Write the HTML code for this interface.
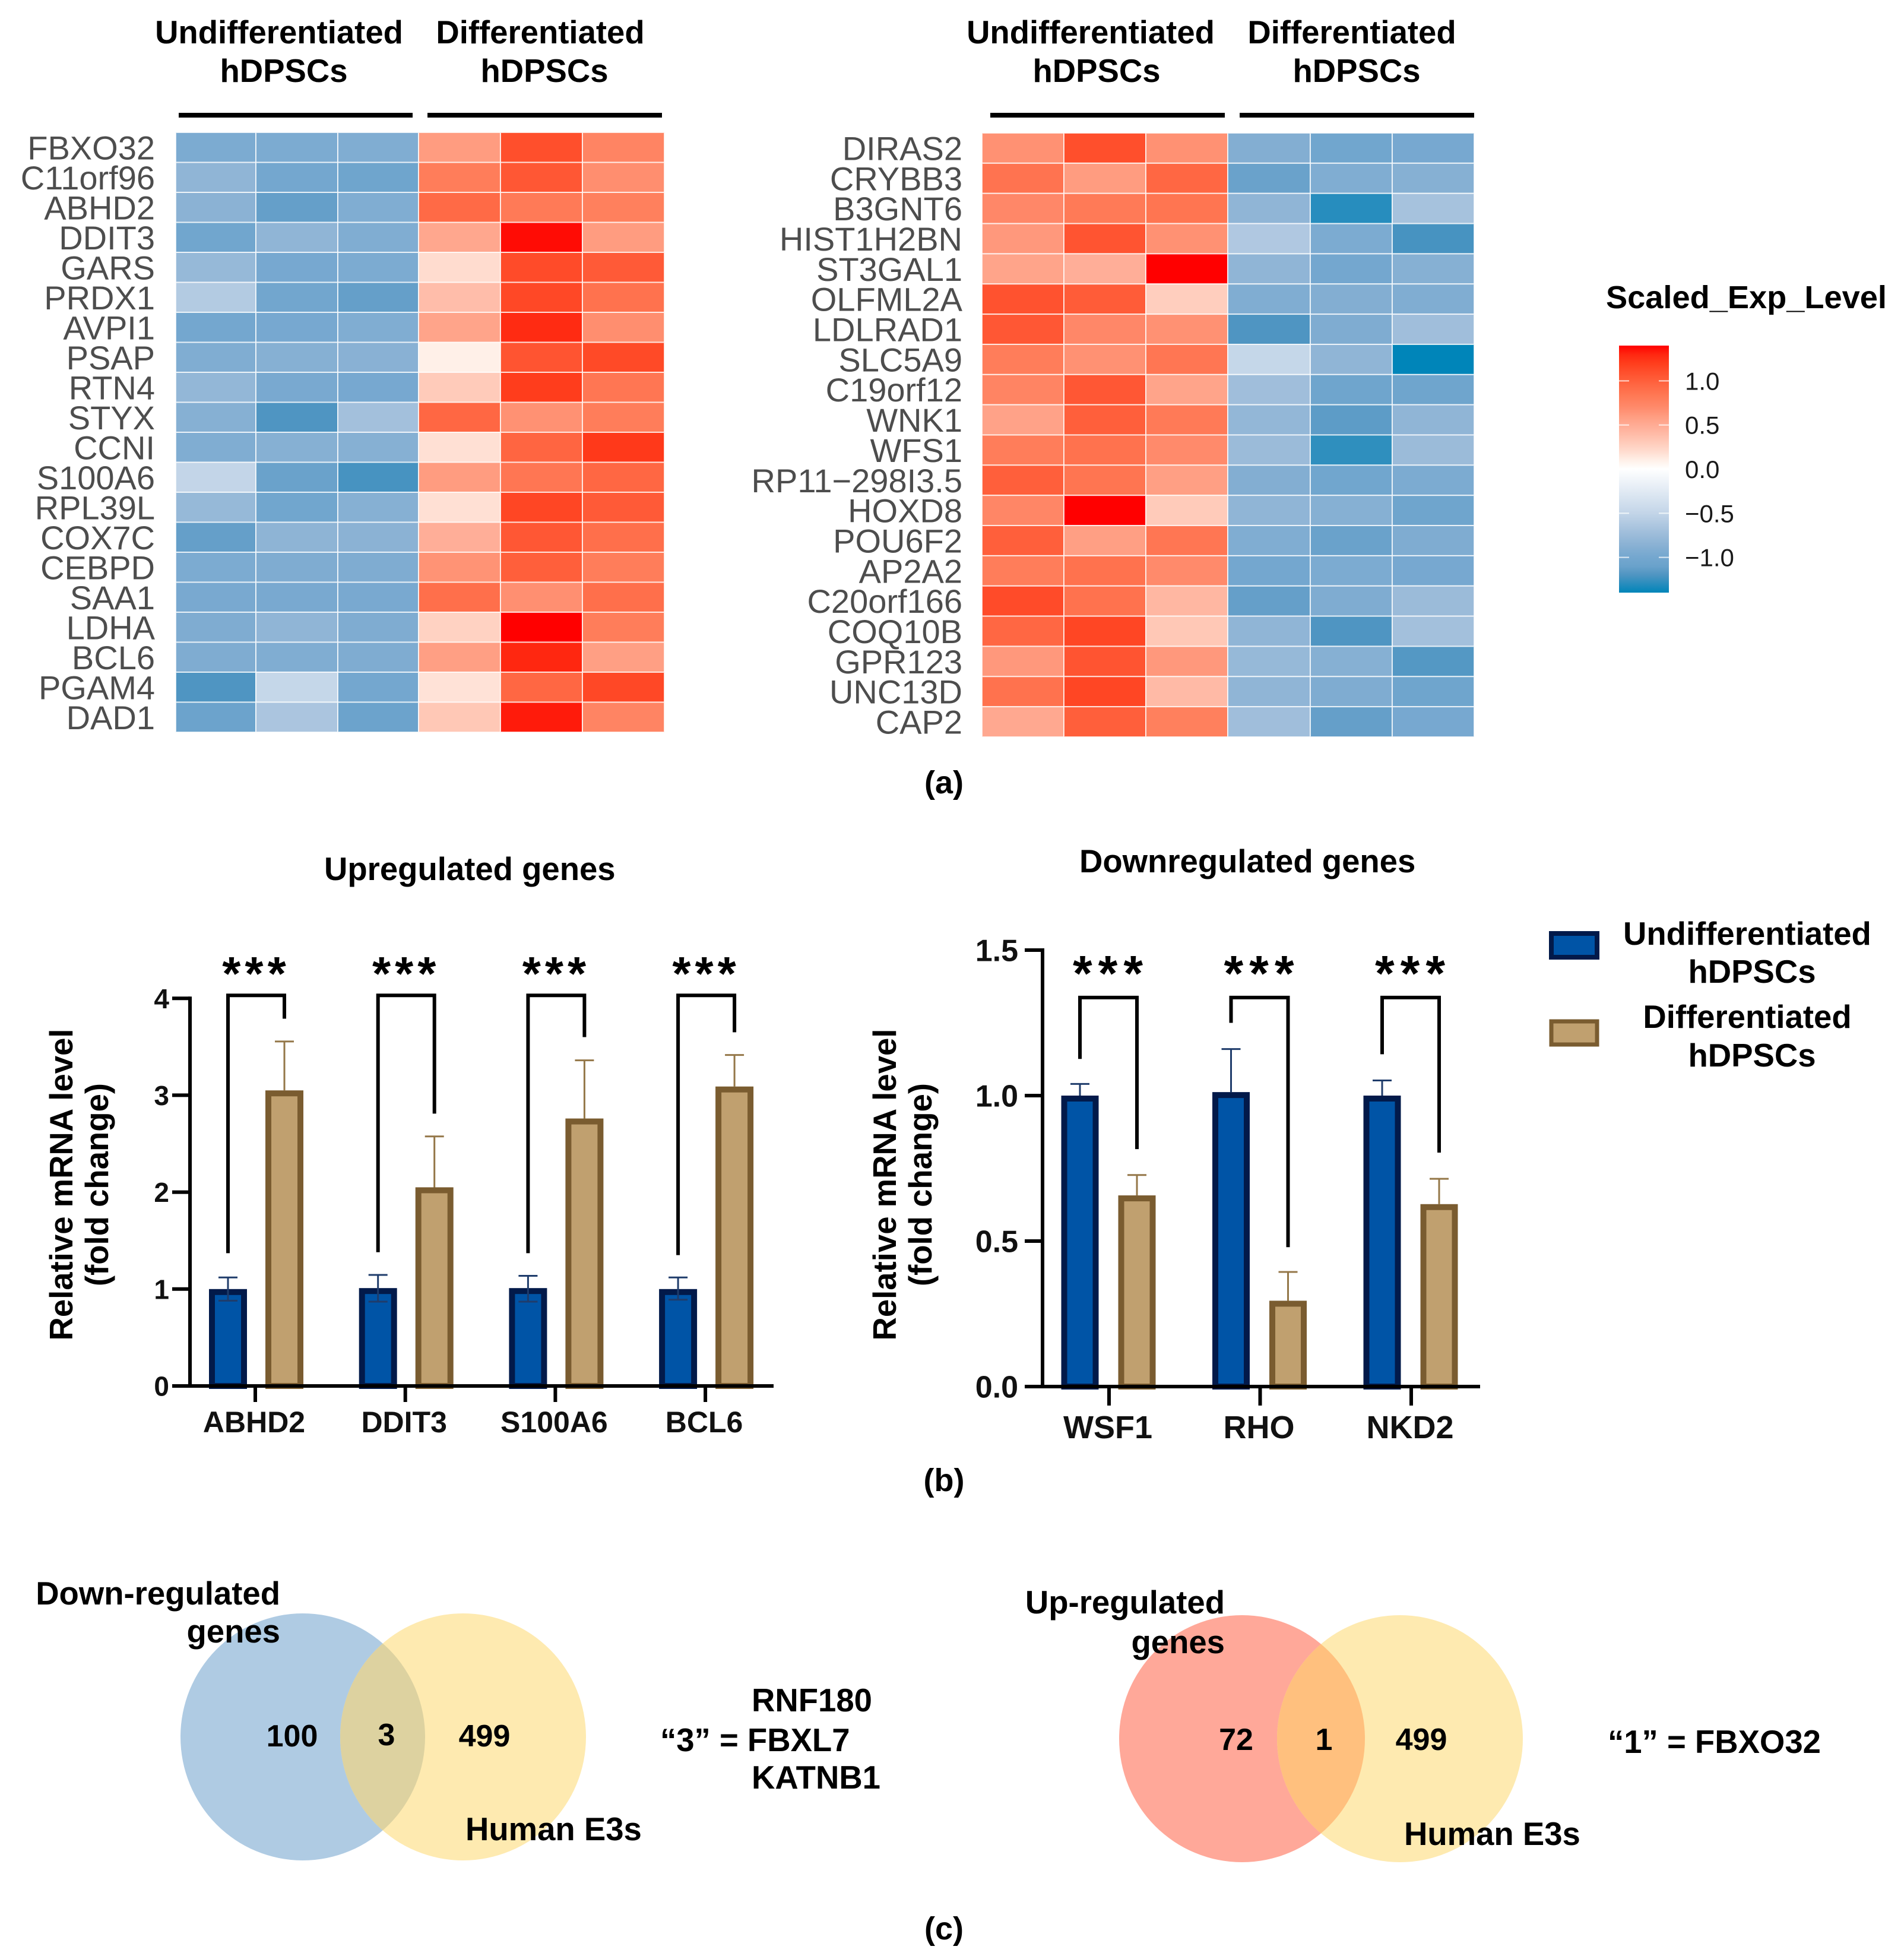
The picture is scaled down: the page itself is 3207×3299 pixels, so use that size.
<!DOCTYPE html>
<html lang="en">
<head>
<meta charset="utf-8">
<title>Heatmaps, qPCR bars and Venn diagrams</title>
<style>
html,body{margin:0;padding:0;background:#fff;}
svg{display:block;font-family:"Liberation Sans",Arial,sans-serif;}
.b{font-weight:700;fill:#000;font-size:54.5px;}
.gene{font-size:56px;fill:#4d4d4d;text-anchor:end;}
.m{text-anchor:middle;}
</style>
</head>
<body>
<svg id="fig" xmlns="http://www.w3.org/2000/svg" width="3207" height="3299" viewBox="0 0 3207 3299">
<defs>
<linearGradient id="legendGrad" x1="0" y1="0" x2="0" y2="1"></linearGradient>
<clipPath id="clipBlue"><ellipse cx="510" cy="2925" rx="206" ry="208"/></clipPath>
<clipPath id="clipRed"><ellipse cx="2092" cy="2928" rx="207" ry="208"/></clipPath>
</defs>
<rect width="3207" height="3299" fill="#fff"/>

<g id="heatLeft"></g>
<g id="heatRight"></g>

<text class="b m" x="470" y="73">Undifferentiated</text>
<text class="b m" x="478" y="138">hDPSCs</text>
<text class="b m" x="910" y="73">Differentiated</text>
<text class="b m" x="917" y="138">hDPSCs</text>
<rect x="301" y="190" width="394" height="8" fill="#000"/>
<rect x="720" y="190" width="395" height="8" fill="#000"/>

<text class="b m" x="1837" y="73">Undifferentiated</text>
<text class="b m" x="1847" y="138">hDPSCs</text>
<text class="b m" x="2277" y="73">Differentiated</text>
<text class="b m" x="2285" y="138">hDPSCs</text>
<rect x="1668" y="190" width="395" height="8" fill="#000"/>
<rect x="2088" y="190" width="395" height="8" fill="#000"/>

<text class="b" style="font-size:54.2px" x="2705" y="519">Scaled_Exp_Level</text>
<rect x="2727" y="582" width="84" height="416" fill="url(#legendGrad)"/>
<g id="legendTicks"></g>

<text class="b m" style="font-size:54px" x="1590" y="1336">(a)</text>

<text class="b" x="546" y="1482">Upregulated genes</text>
<g id="chartUp"></g>
<text class="b m" transform="rotate(-90 122 1995)" x="122" y="1995">Relative mRNA level</text>
<text class="b m" transform="rotate(-90 182 1995)" x="182" y="1995">(fold change)</text>

<text class="b" x="1818" y="1469">Downregulated genes</text>
<g id="chartDown"></g>
<text class="b m" transform="rotate(-90 1509 1995)" x="1509" y="1995">Relative mRNA level</text>
<text class="b m" transform="rotate(-90 1569 1995)" x="1569" y="1995">(fold change)</text>

<rect x="2613" y="1572" width="77" height="40" fill="#0054a6" stroke="#021a4a" stroke-width="8"/>
<rect x="2613" y="1720" width="77" height="39" fill="#c0a06f" stroke="#7a5c30" stroke-width="7"/>
<text class="b" x="2734" y="1591">Undifferentiated</text>
<text class="b m" x="2951" y="1655">hDPSCs</text>
<text class="b m" x="2943" y="1731">Differentiated</text>
<text class="b m" x="2951" y="1796">hDPSCs</text>

<text class="b m" style="font-size:54px" x="1590" y="2511">(b)</text>

<g>
<ellipse cx="510" cy="2925" rx="206" ry="208" fill="#afcbe3"/>
<ellipse cx="780" cy="2925" rx="207" ry="208" fill="#feeab0"/>
<ellipse cx="780" cy="2925" rx="207" ry="208" fill="#ddd2a0" clip-path="url(#clipBlue)"/>
<text class="b" style="text-anchor:end" x="472" y="2702">Down-regulated</text>
<text class="b" style="text-anchor:end" x="472" y="2766">genes</text>
<text class="b m" style="font-size:52px" x="492" y="2941">100</text>
<text class="b m" style="font-size:52px" x="651" y="2939">3</text>
<text class="b m" style="font-size:52px" x="816" y="2941">499</text>
<text class="b" x="784" y="3099">Human E3s</text>
<text class="b" x="1266" y="2882">RNF180</text>
<text class="b" x="1112" y="2949">“3” = FBXL7</text>
<text class="b" x="1266" y="3012">KATNB1</text>
</g>

<g>
<ellipse cx="2092" cy="2928" rx="207" ry="208" fill="#ffa899"/>
<ellipse cx="2358" cy="2928" rx="207" ry="208" fill="#feeab0"/>
<ellipse cx="2358" cy="2928" rx="207" ry="208" fill="#ffc07e" clip-path="url(#clipRed)"/>
<text class="b" style="text-anchor:end" x="2063" y="2717">Up-regulated</text>
<text class="b" style="text-anchor:end" x="2063" y="2784">genes</text>
<text class="b m" style="font-size:52px" x="2082" y="2947">72</text>
<text class="b m" style="font-size:52px" x="2230" y="2947">1</text>
<text class="b m" style="font-size:52px" x="2394" y="2947">499</text>
<text class="b" x="2365" y="3107">Human E3s</text>
<text class="b" x="2708" y="2952">“1” = FBXO32</text>
</g>

<text class="b m" style="font-size:54px" x="1590" y="3266">(c)</text>
</svg>

<script>
// ---- colour scale ----
const colorStopValues = [-1.4,-1.2,-1.1,-1.0,-0.85,-0.7,-0.5,0,0.1,0.2,0.3,0.4,0.5,0.6,0.7,0.8,0.9,1.0,1.1,1.2,1.3,1.4];
const colorStopColors = ['#0085b9','#4f95c2','#6aa2cb','#74a7cf','#8bb2d4','#a3c0dc','#c3d5e8','#ffffff','#fff0e8','#ffdccf','#ffcbba','#ffbaa6','#ffab94','#ff9c80','#ff8a6b','#ff7d5a','#ff6f4b','#ff5f3b','#ff4f2c','#ff3d1c','#ff2710','#ff0000'];
const legendTickValues = [1.0,0.5,0.0,-0.5,-1.0];
const legendTickLabels = ['1.0','0.5','0.0','−0.5','−1.0'];

// ---- left heatmap ----
const leftGenes = ['FBXO32','C11orf96','ABHD2','DDIT3','GARS','PRDX1','AVPI1','PSAP','RTN4','STYX','CCNI','S100A6','RPL39L','COX7C','CEBPD','SAA1','LDHA','BCL6','PGAM4','DAD1'];
const leftValues = [
[-0.95,-0.95,-0.92,0.6,1.1,0.75],
[-0.82,-1.0,-1.05,0.8,1.05,0.68],
[-0.85,-1.12,-0.92,0.93,0.82,0.78],
[-1.03,-0.82,-0.92,0.53,1.37,0.6],
[-0.78,-0.98,-0.95,0.2,1.12,1.03],
[-0.6,-1.02,-1.12,0.38,1.14,0.88],
[-1.0,-0.98,-0.92,0.55,1.28,0.68],
[-0.92,-0.88,-0.86,0.1,1.07,1.13],
[-0.8,-0.97,-0.98,0.3,1.2,0.85],
[-0.88,-1.2,-0.7,0.95,0.66,0.8],
[-0.92,-0.88,-0.88,0.18,0.96,1.22],
[-0.5,-1.1,-1.22,0.6,0.85,0.95],
[-0.78,-1.03,-0.88,0.18,1.15,1.03],
[-1.12,-0.83,-0.85,0.48,1.05,0.9],
[-0.95,-0.93,-0.93,0.65,1.0,0.8],
[-0.97,-0.97,-0.97,0.9,0.67,0.9],
[-0.93,-0.82,-0.93,0.26,1.4,0.8],
[-0.93,-0.92,-0.93,0.58,1.3,0.58],
[-1.2,-0.48,-1.0,0.17,0.95,1.14],
[-1.08,-0.65,-1.08,0.32,1.33,0.75]
];

// ---- right heatmap ----
const rightGenes = ['DIRAS2','CRYBB3','B3GNT6','HIST1H2BN','ST3GAL1','OLFML2A','LDLRAD1','SLC5A9','C19orf12','WNK1','WFS1','RP11−298I3.5','HOXD8','POU6F2','AP2A2','C20orf166','COQ10B','GPR123','UNC13D','CAP2'];
const rightValues = [
[0.66,1.1,0.66,-0.9,-1.03,-0.98],
[0.87,0.6,0.95,-1.1,-0.92,-0.88],
[0.72,0.82,0.86,-0.82,-1.3,-0.68],
[0.62,1.07,0.66,-0.62,-0.95,-1.22],
[0.55,0.48,1.4,-0.82,-1.0,-0.88],
[1.08,1.02,0.28,-0.92,-0.9,-0.92],
[1.05,0.72,0.66,-1.2,-0.93,-0.72],
[0.8,0.66,0.85,-0.48,-0.82,-1.4],
[0.75,1.05,0.55,-0.72,-1.05,-1.05],
[0.56,1.0,0.82,-0.8,-1.15,-0.82],
[0.8,0.88,0.7,-0.75,-1.28,-0.75],
[1.0,0.86,0.58,-0.9,-1.03,-0.95],
[0.73,1.4,0.3,-0.82,-0.88,-1.05],
[1.0,0.58,0.85,-0.92,-1.1,-0.93],
[0.8,0.88,0.7,-1.0,-0.95,-0.98],
[1.12,0.88,0.42,-1.12,-0.93,-0.75],
[0.95,1.15,0.32,-0.82,-1.2,-0.7],
[0.62,1.07,0.62,-0.78,-0.88,-1.18],
[0.88,1.15,0.4,-0.82,-0.93,-1.05],
[0.52,1.0,0.78,-0.72,-1.12,-0.98]
];

// ---- upregulated bar chart ----
const upGenes = ['ABHD2','DDIT3','S100A6','BCL6'];
const upUndiff = [1.0,1.01,1.01,1.0];
const upUndiffErrHigh = [1.12,1.146,1.137,1.12];
const upUndiffErrLow = [0.88,0.87,0.87,0.89];
const upDiff = [3.05,2.05,2.76,3.09];
const upDiffErrHigh = [3.555,2.575,3.36,3.415];
const upBracketLeft = [1.37,1.38,1.37,1.35];
const upBracketRight = [3.79,2.81,3.6,3.65];
const upBracketTop = [4.03,4.03,4.03,4.03];
const upTicks = [0,1,2,3,4];
const upTickLabels = ['0','1','2','3','4'];

// ---- downregulated bar chart ----
const downGenes = ['WSF1','RHO','NKD2'];
const downUndiff = [1.0,1.012,1.0];
const downUndiffErrHigh = [1.04,1.16,1.052];
const downDiff = [0.657,0.295,0.627];
const downDiffErrHigh = [0.727,0.394,0.714];
const downBracketLeft = [1.126,1.25,1.142];
const downBracketRight = [0.816,0.479,0.804];
const downBracketTop = [1.337,1.337,1.337];
const downTicks = [0,0.5,1.0,1.5];
const downTickLabels = ['0.0','0.5','1.0','1.5'];

const NS = 'http://www.w3.org/2000/svg';
function make(tag, parent, attrs, text) {
  const n = document.createElementNS(NS, tag);
  for (const k in attrs) n.setAttribute(k, attrs[k]);
  if (text !== undefined) n.textContent = text;
  parent.appendChild(n);
  return n;
}
function hexRgb(h) { return [1,3,5].map(i => parseInt(h.slice(i,i+2),16)); }
function colorFor(v) {
  const vs = colorStopValues;
  if (v <= vs[0]) return colorStopColors[0];
  for (let i = 1; i < vs.length; i++) {
    if (v <= vs[i]) {
      const t = (v - vs[i-1]) / (vs[i] - vs[i-1]);
      const a = hexRgb(colorStopColors[i-1]), b = hexRgb(colorStopColors[i]);
      return 'rgb(' + a.map((c,j) => Math.round(c + (b[j]-c)*t)).join(',') + ')';
    }
  }
  return colorStopColors[vs.length-1];
}

// colour bar gradient + ticks: the top of the bar is the highest value, so stops run high to low
const grad = document.getElementById('legendGrad');
for (let i = colorStopValues.length - 1; i >= 0; i--) {
  make('stop', grad, {offset: (1.4 - colorStopValues[i])/2.8, 'stop-color': colorStopColors[i]});
}
const legendY = v => 790 - v*148.6;
const legendTicksG = document.getElementById('legendTicks');
legendTickValues.forEach((v,i) => {
  const t1 = make('rect', legendTicksG, {x:2727, y:legendY(v)-1, width:17, height:2, fill:'#fff', opacity:0.75});
  
  
  const t2 = make('rect', legendTicksG, {x:2794, y:legendY(v)-1, width:17, height:2, fill:'#fff', opacity:0.75});
  
  
  const l = make('text', legendTicksG, {x:2838, y:legendY(v)+15, 'font-size':42, fill:'#1a1a1a'}, legendTickLabels[i]);
  
  
});

// heatmaps
function drawHeat(group, genes, values, colEdges, top, rowH, labelX) {
  const yOf = r => top + r*rowH;
  values.forEach((row, r) => {
    row.forEach((v, c) => {
      const cell = make('rect', group, {x:colEdges[c], y:yOf(r), width:colEdges[c+1]-colEdges[c], height:rowH, fill:colorFor(v), stroke:'#fff', 'stroke-opacity':0.75, 'stroke-width':2});
      
      
    });
    const lab = make('text', group, {class:'gene', x:labelX, y:yOf(r)+rowH/2+20}, genes[r]);
    
    
  });
}
drawHeat(document.getElementById('heatLeft'), leftGenes, leftValues, [296,431,569,705,843,981,1119], 223, 50.5, 261);
drawHeat(document.getElementById('heatRight'), rightGenes, rightValues, [1654,1792,1930,2068,2207,2345,2483], 224, 50.85, 1621);

// bar charts
function drawBars(g, cfg) {
  const y = v => cfg.y0 - v*cfg.unit;
  const xc = i => cfg.x0 + cfg.step*i;
  const sw = 10;
  const barRect = (cx, v, fill, stroke) => make('rect', g, {
    x: cx - cfg.barW/2 + sw/2, y: y(v) + sw/2,
    width: cfg.barW - sw, height: cfg.y0 - y(v) - sw/2,
    fill: fill, stroke: stroke, 'stroke-width': sw
  });
  const errLine = (cx, a, b, col) => make('line', g, {x1:cx, x2:cx, y1:y(a), y2:y(b), stroke:col, 'stroke-width':3});
  const errCap = (cx, a, col) => make('line', g, {x1:cx-16, x2:cx+16, y1:y(a), y2:y(a), stroke:col, 'stroke-width':3});

  cfg.genes.forEach((gene, i) => {
    const bx = xc(i) + cfg.offA, dx = xc(i) + cfg.offB;

    const b1 = barRect(bx, cfg.undiff[i], '#0054a6', '#021a4a');
    
    
    const e1 = errLine(bx, cfg.undiff[i], cfg.undiffHigh[i], '#1f3c6b');
    
    
    const c1 = errCap(bx, cfg.undiffHigh[i], '#1f3c6b');
    
    
    if (cfg.undiffLow) {
      const e1b = errLine(bx, cfg.undiff[i], cfg.undiffLow[i], '#1f3c6b');
      
      
      const c1b = errCap(bx, cfg.undiffLow[i], '#1f3c6b');
      
      
    }

    const b2 = barRect(dx, cfg.diff[i], '#c0a06f', '#7a5c30');
    
    
    const e2 = errLine(dx, cfg.diff[i], cfg.diffHigh[i], '#947748');
    
    
    const c2 = errCap(dx, cfg.diffHigh[i], '#947748');
    
    

    const br = make('path', g, {
      d: 'M' + bx + ' ' + y(cfg.brLeft[i]) + 'V' + y(cfg.brTop[i]) + 'H' + dx + 'V' + y(cfg.brRight[i]),
      fill: 'none', stroke: '#000', 'stroke-width': 6
    });
    
    

    const st = make('text', g, {
      x: xc(i) - 2 + cfg.starLs/2, y: cfg.starY, 'text-anchor': 'middle',
      'font-size': cfg.starSize, 'font-weight': 700, 'letter-spacing': cfg.starLs, fill: '#000'
    }, '***');
    
    

    const tk = make('line', g, {x1:xc(i), x2:xc(i), y1:cfg.y0, y2:cfg.y0+cfg.tickLen, stroke:'#000', 'stroke-width':6});
    
    

    const gl = make('text', g, {x:xc(i)+cfg.catOff, y:cfg.catY, 'text-anchor':'middle', 'font-size':cfg.catSize, 'font-weight':700, fill:'#111'}, gene);
    
    
  });

  const yAxis = make('line', g, {x1:cfg.axisX, x2:cfg.axisX, y1:y(cfg.ticks[cfg.ticks.length-1])-3, y2:cfg.y0+3, stroke:'#000', 'stroke-width':6});
  
  
  const xAxis = make('line', g, {x1:cfg.axisX-30, x2:cfg.axisEnd, y1:cfg.y0, y2:cfg.y0, stroke:'#000', 'stroke-width':6});
  
  

  cfg.ticks.forEach((t, i) => {
    const tk = make('line', g, {x1:cfg.axisX-30, x2:cfg.axisX, y1:y(t), y2:y(t), stroke:'#000', 'stroke-width':6});
    
    
    const lb = make('text', g, {x:cfg.axisX-cfg.labelGap, y:y(t)+cfg.ySize*0.36, 'text-anchor':'end', 'font-size':cfg.ySize, 'font-weight':700, fill:'#111'}, cfg.tickLabels[i]);
    
    
  });
}

drawBars(document.getElementById('chartUp'), {
  genes: upGenes, undiff: upUndiff, undiffHigh: upUndiffErrHigh, undiffLow: upUndiffErrLow,
  diff: upDiff, diffHigh: upDiffErrHigh,
  brLeft: upBracketLeft, brRight: upBracketRight, brTop: upBracketTop,
  ticks: upTicks, tickLabels: upTickLabels,
  y0: 2334, unit: 163.2, x0: 430, step: 252.7, offA: -46, offB: 49, barW: 64,
  axisX: 320, axisEnd: 1303, tickLen: 27, labelGap: 35, ySize: 46,
  catY: 2412, catSize: 50, catOff: -2, starY: 1667, starSize: 80, starLs: 7
});
drawBars(document.getElementById('chartDown'), {
  genes: downGenes, undiff: downUndiff, undiffHigh: downUndiffErrHigh, undiffLow: null,
  diff: downDiff, diffHigh: downDiffErrHigh,
  brLeft: downBracketLeft, brRight: downBracketRight, brTop: downBracketTop,
  ticks: downTicks, tickLabels: downTickLabels,
  y0: 2335, unit: 490, x0: 1868, step: 254.5, offA: -49, offB: 47, barW: 63,
  axisX: 1756, axisEnd: 2493, tickLen: 32, labelGap: 41, ySize: 52,
  catY: 2422, catSize: 54, catOff: -2, starY: 1668, starSize: 84, starLs: 10
});
</script>
</body>
</html>
